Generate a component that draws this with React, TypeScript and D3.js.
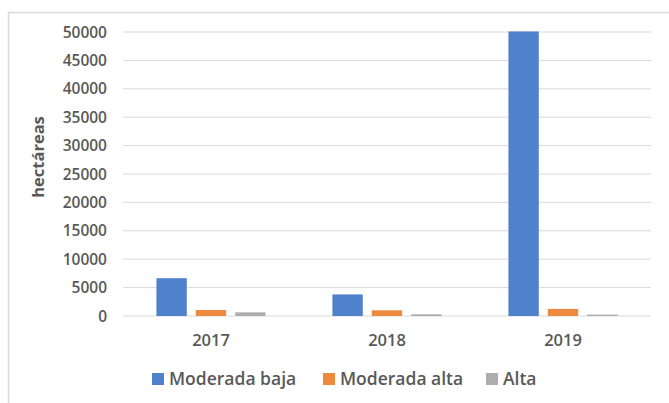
import React from 'react';
import * as d3 from 'd3';

const years = ['2017', '2018', '2019'];
const series = ['Moderada baja', 'Moderada alta', 'Alta'];
const moderadaBaja = [6650, 3800, 50100];
const moderadaAlta = [1050, 1000, 1250];
const alta = [650, 300, 250];
const yTicks = [0, 5000, 10000, 15000, 20000, 25000, 30000, 35000, 40000, 45000, 50000];

const colors = ['#4f81cc', '#ee8a3e', '#adadad'];
const textColor = '#595959';
const font = "'Open Sans', 'Liberation Sans', sans-serif";

const App = () => {
  const width = 669;
  const height = 403;
  const margin = { left: 123, right: 18, top: 32, bottom: 87 };

  const values = [moderadaBaja, moderadaAlta, alta];

  const x0 = d3.scaleBand<string>()
    .domain(years)
    .range([margin.left, width - margin.right])
    .paddingInner(0.38)
    .paddingOuter(0.19);
  const x1 = d3.scaleBand<string>()
    .domain(series)
    .range([0, x0.bandwidth()])
    .paddingInner(0.23);
  const y = d3.scaleLinear()
    .domain([0, 50000])
    .range([height - margin.bottom, margin.top]);

  const legendX = [152, 323, 486];

  return (
    <svg width={width} height={height} style={{ position: 'absolute', left: 0, top: 0, background: '#fff' }}>
      <rect x={8.5} y={12.5} width={width} height={height} fill="#fff" stroke="#d9d9d9" strokeWidth={1.5} />
      <g className="grid">
        {yTicks.map((t) => (
          <line
            key={t}
            x1={margin.left}
            x2={width - margin.right}
            y1={y(t)}
            y2={y(t)}
            stroke="#d9d9d9"
            strokeWidth={1}
          />
        ))}
      </g>
      <g className="y-labels" fontFamily={font} fontWeight="600" fontSize="15.5" fill={textColor}>
        {yTicks.map((t) => (
          <text key={t} x={107} y={y(t)} dy=".36em" textAnchor="end">{t}</text>
        ))}
      </g>
      <text
        transform="translate(44,157) rotate(-90)"
        textAnchor="middle"
        fontFamily={font}
        fontWeight="700"
        fontSize="16.5"
        fill={textColor}
      >
        hectáreas
      </text>
      <g className="bars">
        {years.map((yr, i) => (
          <g key={yr} transform={`translate(${x0(yr)},0)`}>
            {series.map((s, j) => (
              <rect
                key={s}
                x={x1(s)}
                y={y(values[j][i])}
                width={x1.bandwidth()}
                height={y(0) - y(values[j][i])}
                fill={colors[j]}
              />
            ))}
          </g>
        ))}
      </g>
      <g className="x-labels" fontFamily={font} fontWeight="600" fontSize="16.5" fill={textColor}>
        {years.map((yr) => (
          <text key={yr} x={(x0(yr) as number) + x0.bandwidth() / 2} y={346} textAnchor="middle">{yr}</text>
        ))}
      </g>
      <g className="legend" fontFamily={font} fontWeight="600" fontSize="17.5" fill={textColor}>
        {series.map((s, j) => (
          <g key={s} transform={`translate(${legendX[j]},373)`}>
            <rect x={0} y={0} width={12} height={12} fill={colors[j]} />
            <text x={17} y={12}>{s}</text>
          </g>
        ))}
      </g>
    </svg>
  );
};

export default App;
